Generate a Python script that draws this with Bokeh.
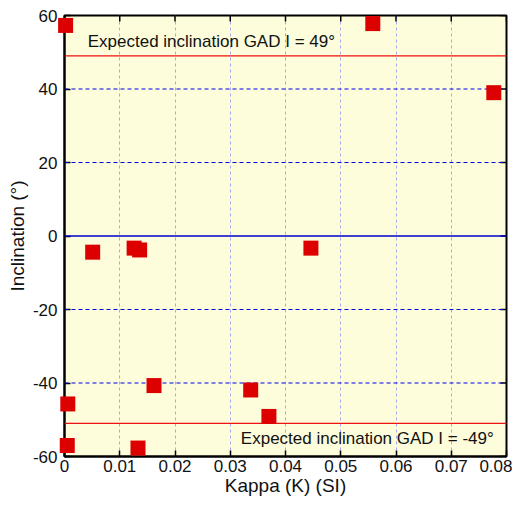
from bokeh.plotting import figure
from bokeh.models import Span, Label, FixedTicker, Range1d
from bokeh.embed import file_html
from bokeh.resources import INLINE
import math

kappa = [0.0002, 0.0558, 0.0777, 0.0051, 0.0126, 0.0136, 0.0446, 0.0162,
         0.0337, 0.0370, 0.0006, 0.0005, 0.0133]
inclination = [57.3, 57.8, 39.0, -4.4, -3.3, -3.8, -3.3, -40.7,
               -41.9, -49.1, -45.7, -57.0, -57.7]
x_ticks = [0, 0.01, 0.02, 0.03, 0.04, 0.05, 0.06, 0.07, 0.08]
x_tick_labels = ["0", "0.01", "0.02", "0.03", "0.04", "0.05", "0.06", "0.07", "0.08"]
y_ticks = [-60, -40, -20, 0, 20, 40, 60]
y_tick_labels = ["-60", "-40", "-20", "0", "20", "40", "60"]
y_dashed = [-40, -20, 20, 40]
gad_upper = 49
gad_lower = -51
label_upper = "Expected inclination GAD I = 49°"
label_lower = "Expected inclination GAD I = -49°"

FONT = "Liberation Sans"
x0, x1 = 0, 0.08
y0, y1 = -60, 60

p = figure(width=512, height=498, output_backend="svg", toolbar_location=None,
           x_range=Range1d(x0, x1), y_range=Range1d(y0, y1),
           min_border_left=64, min_border_top=15, min_border_right=6, min_border_bottom=41,
           background_fill_color="#fdfddc", border_fill_color="white")

p.outline_line_color = "black"
p.outline_line_width = 2

for ax in (p.xaxis[0], p.yaxis[0]):
    ax.major_tick_in = 6
    ax.major_tick_out = 0
    ax.minor_tick_line_color = None
    ax.axis_line_width = 2
    ax.major_tick_line_width = 1.5
    ax.major_label_text_font = FONT
    ax.major_label_text_font_size = "17px"
    ax.major_label_text_color = "#111111"
    ax.axis_label_text_font = FONT
    ax.axis_label_text_font_size = "19px"
    ax.axis_label_text_font_style = "normal"
    ax.axis_label_text_color = "#111111"

p.xaxis[0].ticker = FixedTicker(ticks=x_ticks)
p.yaxis[0].ticker = FixedTicker(ticks=y_ticks)
p.xaxis[0].major_label_overrides = dict(zip(x_ticks, x_tick_labels))
p.yaxis[0].major_label_overrides = dict(zip(y_ticks, y_tick_labels))
p.xaxis[0].axis_label = "Kappa (Κ) (SI)"
p.yaxis[0].axis_label = "Inclination (°)"
p.xaxis[0].major_label_standoff = 3
p.yaxis[0].major_label_standoff = 7
p.xaxis[0].axis_label_standoff = 0
p.yaxis[0].axis_label_standoff = 2

p.xgrid.ticker = FixedTicker(ticks=x_ticks)
p.xgrid.grid_line_color = "#a8a8f0"
p.xgrid.grid_line_dash = "3 3"
p.xgrid.grid_line_width = 1
p.ygrid.grid_line_color = None

for yv in y_dashed:
    p.add_layout(Span(location=yv, dimension="width", line_color="#0000ee",
                      line_width=1.2, line_dash="4 3"))
p.add_layout(Span(location=0, dimension="width", line_color="#0000cc", line_width=1.5))
p.add_layout(Span(location=gad_upper, dimension="width", line_color="#ee1111", line_width=1.2))
p.add_layout(Span(location=gad_lower, dimension="width", line_color="#ee1111", line_width=1.2))

# mirrored inward ticks on top and right edges
p.scatter(x_ticks, [y1] * len(x_ticks), marker="dash", size=12, angle=math.pi / 2,
          line_color="black", line_width=1.5)
p.scatter([x1] * len(y_ticks), y_ticks, marker="dash", size=12,
          line_color="black", line_width=1.5)

pts = p.scatter(kappa, inclination, marker="square", size=15, fill_color="#dd0000",
                line_color=None, level="overlay")

p.add_layout(Label(x=0.0042, y=52.9, text=label_upper, text_font=FONT,
                   text_font_size="17px", text_baseline="middle", text_color="#111111"))
p.add_layout(Label(x=0.0777, y=-55.2, text=label_lower, text_font=FONT,
                   text_font_size="17px", text_baseline="middle", text_align="right",
                   text_color="#111111"))

open("out.html", "w").write(file_html(p, INLINE))
